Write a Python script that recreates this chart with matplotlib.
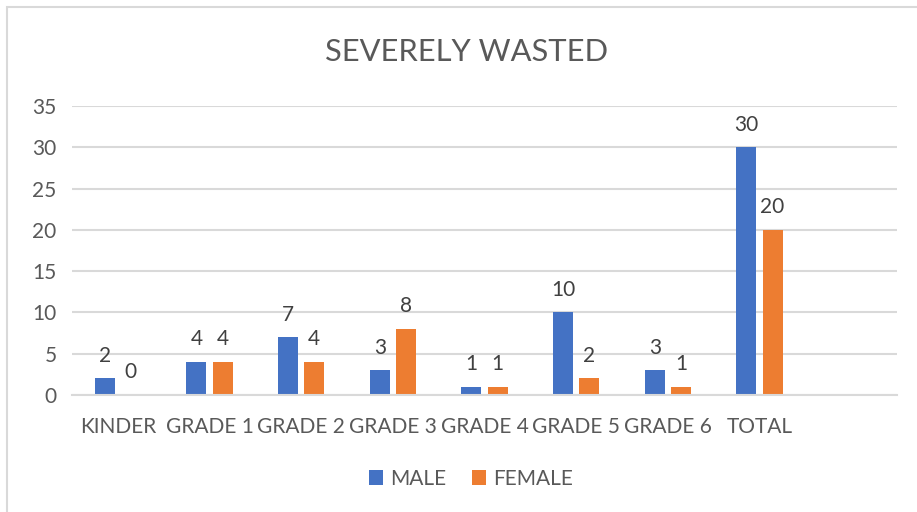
import matplotlib
matplotlib.use("Agg")
import matplotlib.pyplot as plt
import numpy as np
from matplotlib.patches import Rectangle

categories = ["KINDER", "GRADE 1", "GRADE 2", "GRADE 3", "GRADE 4", "GRADE 5", "GRADE 6", "TOTAL"]
male = [2, 4, 7, 3, 1, 10, 3, 30]
female = [0, 4, 4, 8, 1, 2, 1, 20]
title = "SEVERELY WASTED"
yticks = [0, 5, 10, 15, 20, 25, 30, 35]

plt.rcParams['font.family'] = ['Lato', 'DejaVu Sans']
TXT = "#595959"
W, H = 917, 512
fig = plt.figure(figsize=(W / 100, H / 100), dpi=100)

# chart border
fig.patches.append(Rectangle((7 / W, -0.1), 1.2, 1 - 7 / H + 0.1, transform=fig.transFigure,
                             fill=False, edgecolor="#D9D9D9", linewidth=1.5))

left, right = 72 / W, 897 / W
bottom, top = 1 - 395 / H, 1 - 106 / H
ax = fig.add_axes([left, bottom, right - left, top - bottom])

x = np.arange(len(categories))
bw = 0.218
off = 0.142
b1 = ax.bar(x - off, male, bw, color="#4472C4", label="MALE")
b2 = ax.bar(x + off, female, bw, color="#ED7D31", label="FEMALE")

for bars, vals in ((b1, male), (b2, female)):
    for r, v in zip(bars, vals):
        ax.annotate(str(v), (r.get_x() + r.get_width() / 2, v), xytext=(0, 9),
                    textcoords="offset points", ha="center", va="bottom",
                    fontsize=15, color="#404040")

ax.set_xlim(-0.5, len(categories) + 0.5)
ax.set_ylim(0, 35)
ax.set_yticks(yticks)
ax.set_xticks(x)
ax.set_xticklabels(categories)
ax.yaxis.grid(True, color="#D9D9D9", linewidth=1.5)
ax.set_axisbelow(True)
for s in ["top", "right", "left"]:
    ax.spines[s].set_visible(False)
ax.spines["bottom"].set_color("#D9D9D9")
ax.spines["bottom"].set_linewidth(1.5)
ax.tick_params(axis="both", length=0, colors=TXT, labelsize=15)
ax.tick_params(axis="x", pad=16)
ax.tick_params(axis="y", pad=11)

fig.text(467 / W, 1 - 52 / H, title, ha="center", va="center", fontsize=22.2, color=TXT)

leg = fig.legend(handles=[b1, b2], loc="center", bbox_to_anchor=(471 / W, 1 - 479 / H),
                 ncol=2, frameon=False, fontsize=15, handlelength=0.7, handleheight=0.7,
                 columnspacing=1.2, handletextpad=0.35)
for t in leg.get_texts():
    t.set_color(TXT)

fig.savefig("out.png", dpi=100)
